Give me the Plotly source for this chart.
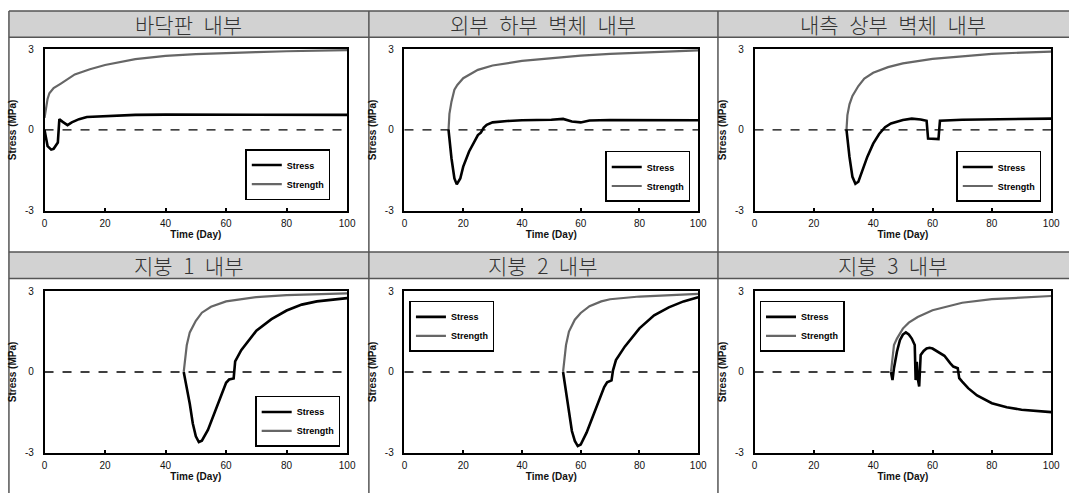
import plotly.graph_objects as go

# ---------------- data ----------------
titles = ["바닥판\u2002내부", "외부\u2002하부\u2002벽체\u2002내부", "내측\u2002상부\u2002벽체\u2002내부",
          "지붕\u20021\u2002내부", "지붕\u20022\u2002내부", "지붕\u20023\u2002내부"]
series_names = ["Stress", "Strength"]
x_ticks = [0, 20, 40, 60, 80, 100]
y_ticks = [-3, 0, 3]
y_tick_labels = ["-3", "0", "3"]

p1_strength_day = [0, 0.5, 1, 1.6, 3, 5.4, 8, 10, 15, 20, 30, 40, 50, 60, 70, 80, 90, 100]
p1_strength_val = [0.45, 0.9, 1.15, 1.36, 1.55, 1.72, 1.92, 2.06, 2.25, 2.41, 2.63, 2.75, 2.81, 2.86, 2.89, 2.92, 2.94, 2.96]
p1_stress_day = [0, 0.5, 1, 2.2, 3, 4.4, 4.9, 6, 7.6, 9, 11.4, 14, 20, 30, 40, 60, 80, 100]
p1_stress_val = [0, -0.35, -0.6, -0.73, -0.7, -0.47, 0.4, 0.3, 0.18, 0.28, 0.4, 0.48, 0.52, 0.56, 0.57, 0.57, 0.56, 0.56]

p2_strength_day = [15, 15.3, 16, 17, 18, 20, 25, 30, 40, 50, 60, 70, 80, 90, 100]
p2_strength_val = [0, 0.6, 1.05, 1.49, 1.67, 1.92, 2.23, 2.39, 2.56, 2.66, 2.76, 2.82, 2.87, 2.91, 2.95]
p2_stress_day = [15, 16, 17, 17.8, 19, 20, 22, 24, 25, 26, 27, 28, 30, 35, 40, 50, 54, 57, 60, 63, 70, 100]
p2_stress_val = [0, -1.05, -1.8, -2.02, -1.8, -1.36, -0.8, -0.37, -0.19, -0.1, 0.09, 0.19, 0.28, 0.33, 0.36, 0.38, 0.41, 0.31, 0.28, 0.35, 0.37, 0.36]

p3_strength_day = [31, 31.3, 32, 33, 35, 37, 40, 45, 50, 60, 70, 80, 90, 100]
p3_strength_val = [0, 0.55, 0.95, 1.26, 1.63, 1.91, 2.12, 2.33, 2.47, 2.64, 2.73, 2.82, 2.87, 2.91]
p3_stress_day = [31, 32, 33, 34, 35, 36, 38, 40, 42, 44, 46, 50, 53, 56, 58, 58.5, 62, 62.5, 70, 100]
p3_stress_val = [0, -1.0, -1.74, -2.0, -1.92, -1.6, -1.0, -0.51, -0.15, 0.1, 0.24, 0.37, 0.42, 0.39, 0.34, -0.32, -0.34, 0.34, 0.38, 0.42]

p4_strength_day = [46, 46.5, 47, 48, 50, 52, 55, 60, 70, 80, 90, 100]
p4_strength_val = [0, 0.63, 0.99, 1.47, 1.9, 2.2, 2.42, 2.62, 2.78, 2.85, 2.89, 2.92]
p4_stress_day = [46, 47, 48, 49, 50, 51, 52, 54, 56, 58, 60, 61, 62.5, 63, 65, 70, 75, 80, 85, 90, 100]
p4_stress_val = [0, -0.58, -1.18, -1.91, -2.39, -2.6, -2.55, -2.15, -1.55, -0.94, -0.4, -0.28, -0.24, 0.39, 0.81, 1.53, 1.96, 2.28, 2.5, 2.62, 2.74]

p5_strength_day = [54, 54.5, 55, 56, 58, 60, 63, 67, 70, 80, 90, 100]
p5_strength_val = [0, 0.62, 1.0, 1.5, 1.94, 2.19, 2.44, 2.62, 2.7, 2.8, 2.85, 2.9]
p5_stress_day = [54, 55, 56, 57, 58, 59, 60, 62, 64, 66, 68, 69, 70.5, 71, 72, 75, 80, 85, 90, 95, 100]
p5_stress_val = [0, -0.75, -1.5, -2.19, -2.56, -2.75, -2.69, -2.25, -1.69, -1.13, -0.56, -0.38, -0.31, 0.06, 0.44, 0.94, 1.62, 2.1, 2.4, 2.62, 2.77]

p6_strength_day = [46, 46.5, 47, 48, 50, 52, 55, 60, 70, 80, 90, 100]
p6_strength_val = [0, 0.6, 1.0, 1.24, 1.61, 1.83, 2.04, 2.29, 2.57, 2.7, 2.76, 2.82]
p6_stress_day = [46, 46.5, 47, 48, 49, 50, 51, 52, 53, 54, 54.3, 54.7, 55, 55.5, 56, 57, 58, 59, 60, 62, 64, 66, 67, 68.5, 69, 70, 72, 75, 80, 85, 90, 100]
p6_stress_val = [0, -0.3, 0.14, 0.75, 1.18, 1.39, 1.47, 1.39, 1.24, 1.0, -0.3, 0.38, -0.23, -0.54, 0.63, 0.78, 0.87, 0.9, 0.87, 0.73, 0.6, 0.32, 0.2, 0.14, -0.23, -0.36, -0.6, -0.87, -1.16, -1.31, -1.4, -1.49]

panels = [
    (p1_stress_day, p1_stress_val, p1_strength_day, p1_strength_val),
    (p2_stress_day, p2_stress_val, p2_strength_day, p2_strength_val),
    (p3_stress_day, p3_stress_val, p3_strength_day, p3_strength_val),
    (p4_stress_day, p4_stress_val, p4_strength_day, p4_strength_val),
    (p5_stress_day, p5_stress_val, p5_strength_day, p5_strength_val),
    (p6_stress_day, p6_stress_val, p6_strength_day, p6_strength_val),
]

# ---------------- layout geometry (pixels) ----------------
W, H = 1078, 498
col_plot_x = [(42, 348), (406, 703), (760, 1060)]
row_plot_y = [(45, 210), (292, 457)]
col_cell_x = [(6, 370), (370, 723), (723, 1078)]
row_band_y = [(6, 33), (252, 279)]
legend_center = [(288, 173), (652, 175), (1007, 175), (298, 425), (454, 328), (808, 328)]

def px(x):
    return x / W

def py(y):
    return 1 - y / H

fig = go.Figure()
tick_font = dict(family="Liberation Sans, Arial", size=10, color="#111")
title_font = dict(family="Liberation Sans, Arial", size=10, color="#111", weight="bold")

shapes = []
annotations = []

for i, (sd, sv, gd, gv) in enumerate(panels):
    r, c = divmod(i, 3)
    n = "" if i == 0 else str(i + 1)
    leg = "legend" if i == 0 else "legend" + str(i + 1)
    fig.add_trace(go.Scatter(x=sd, y=sv, mode="lines", name=series_names[0],
                             line=dict(color="#000000", width=2.6),
                             xaxis="x" + n, yaxis="y" + n, legend=leg))
    fig.add_trace(go.Scatter(x=gd, y=gv, mode="lines", name=series_names[1],
                             line=dict(color="#666666", width=2.2),
                             xaxis="x" + n, yaxis="y" + n, legend=leg))
    x0, x1 = col_plot_x[c]
    y0, y1 = row_plot_y[r]
    fig.layout["xaxis" + n] = dict(
        domain=[px(x0), px(x1)], range=[0, 100], anchor="y" + n,
        tickvals=x_ticks, ticks="inside", ticklen=3, tickwidth=1.5, tickcolor="#000",
        showline=True, linecolor="#000", linewidth=1.5, mirror=True,
        showgrid=False, zeroline=False, tickfont=tick_font, ticklabelstandoff=2,
        title=dict(text="Time (Day)", font=title_font, standoff=2))
    fig.layout["yaxis" + n] = dict(
        domain=[py(y1), py(y0)], range=[-3, 3], anchor="x" + n,
        tickvals=y_ticks, ticktext=y_tick_labels, ticks="",
        showline=True, linecolor="#000", linewidth=1.5, mirror=True,
        showgrid=False, zeroline=False, tickfont=tick_font, ticklabelstandoff=7,
        title=dict(text="Stress (MPa)", font=title_font, standoff=6))
    shapes.append(dict(type="line", xref="x" + n + " domain", yref="y" + n,
                       x0=0, x1=1, y0=0, y1=0,
                       line=dict(color="#000", width=1.3, dash="dash")))
    lx, ly = legend_center[i]
    fig.layout[leg] = dict(
        x=px(lx), y=py(ly), xanchor="center", yanchor="middle",
        bgcolor="white", bordercolor="#000", borderwidth=1.5,
        font=dict(family="Liberation Sans, Arial", size=9, color="#000", weight="bold"),
        itemwidth=30, tracegroupgap=0)
    cx0, cx1 = col_cell_x[c]
    by0, by1 = row_band_y[r]
    annotations.append(dict(text=titles[i], xref="paper", yref="paper",
                            x=px((cx0 + cx1) / 2), y=py((by0 + by1) / 2),
                            xanchor="center", yanchor="middle", showarrow=False,
                            font=dict(family="Noto Sans CJK KR", size=21, color="#333", weight=300)))

for by0, by1 in row_band_y:
    shapes.append(dict(type="rect", xref="paper", yref="paper", layer="below",
                       x0=px(6), x1=1, y0=py(by1), y1=py(by0),
                       fillcolor="#d2d2d2", line=dict(width=0)))
for yy in [6, 33, 252, 279]:
    shapes.append(dict(type="line", xref="paper", yref="paper",
                       x0=px(6), x1=1, y0=py(yy), y1=py(yy),
                       line=dict(color="#555", width=1.5)))
for xx in [6, 370, 723]:
    shapes.append(dict(type="line", xref="paper", yref="paper",
                       x0=px(xx), x1=px(xx), y0=0, y1=py(6),
                       line=dict(color="#555", width=1.5)))

fig.update_layout(width=W, height=H, margin=dict(l=0, r=0, t=0, b=0),
                  paper_bgcolor="white", plot_bgcolor="white",
                  shapes=shapes, annotations=annotations, showlegend=True)

fig.write_html("out.html", config={"displayModeBar": False},
               post_script="document.body.style.margin='0px';document.body.style.padding='0px';document.body.style.overflow='hidden';")
